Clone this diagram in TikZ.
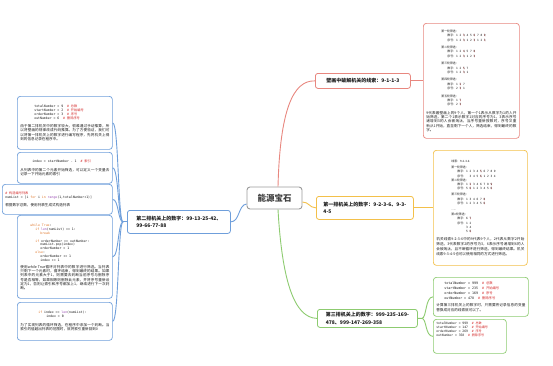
\documentclass[tikz,border=0pt]{standalone}
\usepackage{fontspec}
\usetikzlibrary{calc}
\setmainfont{Noto Sans CJK SC}
\setmonofont{DejaVu Sans Mono}
\XeTeXlinebreaklocale "zh"
\XeTeXlinebreakskip=0pt plus 0.6pt
\parindent=0pt
\definecolor{cred}{HTML}{E8877F}
\definecolor{cyel}{HTML}{F3C04A}
\definecolor{cgrn}{HTML}{8DCB70}
\definecolor{cblu}{HTML}{6F9FDB}
\definecolor{cgry}{HTML}{9B9B9B}
\definecolor{cmt}{HTML}{D42A2A}
\definecolor{kwc}{HTML}{E0782C}
\definecolor{fnc}{HTML}{9B4DB5}
\definecolor{txt}{HTML}{1C1C1C}
\newcommand\pf{\fontsize{3.6}{4.15}\selectfont\rmfamily}
\newcommand\cf{\fontsize{3.2}{3.9}\selectfont\ttfamily}
\newcommand\rf{\fontsize{2.9}{4.2}\selectfont\rmfamily}
\newcommand\cm[1]{{\color{cmt}\#\ \rmfamily #1}}
\newcommand\kw[1]{{\color{kwc}#1}}
\newcommand\fn[1]{{\color{fnc}#1}}
\newcommand\kx[1]{\rlap{#1}{\color{cmt}\textbackslash}}
\newcommand\rh[1]{\hspace*{15pt}#1\par}
\newcommand\rl[2]{\hspace*{21pt}#1：{\ttfamily #2}\par}
\begin{document}
\begin{tikzpicture}[x=1pt,y=-1pt,
  box/.style={draw, rounded corners=3pt, line width=0.7pt, fill=white, anchor=north west,
    inner xsep=3pt, inner ysep=2pt, align=justify, text=txt},
  branch/.style={draw, rounded corners=2.5pt, line width=0.8pt, fill=white, anchor=north west,
    inner xsep=4pt, inner ysep=2pt, font=\fontsize{5}{7.5}\selectfont\bfseries, align=left, text=txt},
  link/.style={line width=0.9pt}]
\useasboundingbox (0,0) rectangle (553,365);

% root
\node[draw=cgry, line width=0.9pt, rounded corners=3pt, fill=white, minimum width=55pt, minimum height=22pt,
  font=\fontsize{8.5}{10}\selectfont\bfseries, text=txt!85, inner sep=0pt] (root) at (274.5,198) {能源宝石};

% branches
\node[branch, draw=cred, minimum width=95pt, minimum height=15pt] (rb) at (315,73)
  {壁画中破解机关的线索：9-1-1-3};
\node[branch, draw=cyel, minimum width=97pt, minimum height=23pt] (yb) at (316,196)
  {第一排机关上的数字：9-2-3-6、9-3-\\4-5};
\node[branch, draw=cgrn, minimum width=100pt, minimum height=18pt, inner ysep=1pt] (gb) at (317,309)
  {第三排机关上的数字：999-235-169-\\478、999-147-269-358};
\node[branch, draw=cblu, minimum width=103pt, minimum height=23pt] (bb) at (127,210)
  {第二排机关上的数字：99-13-25-42、\\99-66-77-88};

% red detail
\node[box, draw=cred, text width=90pt, minimum height=115pt] (rd) at (423,23) {\rf
\rh{第一轮筛选：}
\rl{数字}{1 2 \kx{3} 4 5 \kx{6} 7 8 \kx{9}}
\rl{序号}{1 2 \kx{3} 1 2 \kx{3} 1 2 \kx{3}}
\vspace{3.5pt}
\rh{第二轮筛选：}
\rl{数字}{1 2 \kx{4} 5 7 \kx{8}}
\rl{序号}{1 2 \kx{3} 1 2 \kx{3}}
\vspace{3.5pt}
\rh{第三轮筛选：}
\rl{数字}{1 2 \kx{5} 7}
\rl{序号}{1 2 \kx{3} 1}
\vspace{3.5pt}
\rh{第四轮筛选：}
\rl{数字}{1 \kx{2} 7}
\rl{序号}{2 \kx{3} 1}
\vspace{3.5pt}
\rh{第五轮筛选：}
\rl{数字}{1 \kx{7}}
\rl{序号}{2 \kx{3}}
\vspace{5pt}
\pf 9代表着壁画上的9个人，第一个1表示从数字为1的人开始筛选，第二个1表示数字1对应的序号为1，3表示序号递增到3的人会被淘汰，当序号重新报数时，序号又重新从1开始，直至剩下一个人，筛选结束，得到最终的数字。\par};

% yellow detail
\node[box, draw=cyel, text width=88pt, minimum height=115pt] (yd) at (433,150) {\rf
\rh{线索：9-2-3-6}
\vspace{2pt}
\rh{第一轮筛选：}
\rl{数字}{1 2 3 4 \kx{5} 6 7 8 9}
\rl{序号}{\ \ 3 4 5 \kx{6} 1 2 3 4}
\rh{第二轮筛选：}
\rl{数字}{1 \kx{2} 3 4 6 7 8 \kx{9}}
\rl{序号}{5 \kx{6} 1 2 3 4 5 \kx{6}}
\vspace{2pt}
\rh{第三轮筛选：}
\rl{数字}{1 3 4 6 7 \kx{8}}
\rl{序号}{1 2 3 4 5 \kx{6}}
\vspace{2pt}
\rh{......}
\vspace{1pt}
\rh{第n轮筛选：}
\rl{数字}{6 \kx{7}}
\rl{序号}{1 2}
\hspace*{21pt}\phantom{序号：}{\ttfamily 3 4}\par
\hspace*{21pt}\phantom{序号：}{\ttfamily 5 \kx{6}}\par
\vspace{3pt}
\fontsize{3.6}{5}\selectfont 机关线索9-2-3-6中的9代表9个人，2代表从数字2开始筛选，3代表数字2的序号为3，6表示序号递增到6的人会被淘汰，且不断循环进行筛选，得到最终结果。机关线索9-3-4-5也可以使用相同的方式进行筛选。\par};

% green details
\node[box, draw=cgrn, text width=89pt, minimum height=39pt] (g1) at (433,277) {%
\fontsize{3.3}{5}\selectfont\ttfamily
\hspace*{8pt}totalNumber = 999\ \ \cm{总数}\par
\hspace*{8pt}startNumber = 235\ \ \cm{开始编号}\par
\hspace*{8pt}orderNumber = 169\ \ \cm{序号}\par
\hspace*{8pt}outNumber = 478\ \ \cm{删除序号}\par
\vspace{2.5pt}
\fontsize{3.6}{5}\selectfont\rmfamily 计算第三排机关上的数字时，只需要将记录信息的变量替换成对应的线索就可以了。\par};
\node[box, draw=cgrn, text width=67pt, minimum height=34pt] (g2) at (433,319) {%
\fontsize{3.1}{4.2}\selectfont\ttfamily
totalNumber = 999\ \ \cm{总数}\par
startNumber = 147\ \ \cm{开始编号}\par
orderNumber = 269\ \ \cm{序号}\par
outNumber = 358\ \ \cm{删除序号}\par
\rule{0pt}{13pt}\par};

% blue details
\node[box, draw=cblu, text width=89pt, minimum height=53pt] (b1) at (17,96) {\cf
\hspace*{14pt}totalNumber = 9\ \ \cm{总数}\par
\hspace*{14pt}startNumber = 2\ \ \cm{开始编号}\par
\hspace*{14pt}orderNumber = 3\ \ \cm{序号}\par
\hspace*{14pt}outNumber = 6\ \ \cm{删除序号}\par
\vspace{4pt}
\pf 由于第二排机关中的数字较大，很难通过手动推算，所以将壁画的规律改成代码推算。为了方便验证，我们可以将第一排机关上的数字进行编写程序，先将机关上得到的信息记录在程序中。\par};
\node[box, draw=cblu, text width=89pt, minimum height=31pt] (b2) at (17,152) {\cf
\hspace*{12pt}index = startNumber - 1\ \ \cm{索引}\par
\vspace{5pt}
\pf 从列表中的第二个元素开始筛选，可以定义一个变量去记录一下开始元素的索引\par};
\node[box, draw=cblu, text width=104pt, minimum height=30pt] (b3) at (2,184) {\cf
\cm{构造编号列表}\par
numList = [i \kw{for} i \kw{in} \fn{range}(1,totalNumber+1)]\par
\vspace{4pt}
\pf 根据数字总数，使用列表生成式构造列表\par};
\node[box, draw=cblu, text width=89pt, minimum height=83pt] (b4) at (17,215) {\cf
\hspace*{10pt}\kw{while} \kw{True}:\par
\hspace*{15pt}\kw{if} \fn{len}(numList) == 1:\par
\hspace*{20pt}\kw{break}\par
\mbox{}\par
\hspace*{15pt}\kw{if} orderNumber == outNumber:\par
\hspace*{20pt}numList.pop(index)\par
\hspace*{20pt}orderNumber = 1\par
\hspace*{15pt}\kw{else}:\par
\hspace*{20pt}orderNumber += 1\par
\hspace*{20pt}index += 1\par
\vspace{3pt}
\pf 使用while True循环对列表中的数字进行筛选。当列表只剩下一个元素时，循环结束，得到最终的结果。如果列表中的元素大于1，则需要去判断当前序号与删除序号是否相等，如果相等则删除此元素，并将序号重新设定为1，否则让索引和序号都加上1，继续进行下一次判断。\par};
\node[box, draw=cblu, text width=89pt, minimum height=38pt] (b5) at (17,302) {\cf
\hspace*{18pt}\kw{if} index == \fn{len}(numList):\par
\hspace*{26pt}index = 0\par
\vspace{5pt}
\pf 为了实现列表的循环筛选，在程序中添加一个判断。当索引的值超出列表的范围时，就将索引重新回到0\par};

% connectors from root
\coordinate (rs) at ($(root.north)+(3.5,0)$);
\draw[link, cred] (rs) .. controls (280,110) and (293,80) .. (rb.west);
\coordinate (ys) at ($(root.east)+(0,4)$);
\draw[link, cyel] (ys) .. controls (309,202) and (309,207.5) .. (yb.west);
\coordinate (gs) at ($(root.south)+(3.5,0)$);
\draw[link, cgrn] (gs) .. controls (282,280) and (294,318) .. (gb.west);
\coordinate (bs) at ($(root.west)+(0,6)$);
\draw[link, cblu] (bs) .. controls (238,205) and (240,221.5) .. (bb.east);

% red, yellow
\draw[link, cred] (rb.east) -- (rd.west |- rb.east);
\draw[link, cyel] (yb.east) -- (yd.west |- yb.east);

% green bracket
\coordinate (gsplit) at ($(gb.east)+(4,0)$);
\draw[link, cgrn] (gb.east) -- (gsplit) .. controls +(5,0) and +(-8,0) .. (g1.west);
\draw[link, cgrn] (gsplit) .. controls +(5,0) and +(-8,0) .. (g2.west);

% blue fan
\coordinate (bsplit) at ($(bb.west)+(-4,0)$);
\draw[link, cblu] (bb.west) -- (bsplit);
\foreach \b in {b1,b2,b3,b4,b5}
  \draw[link, cblu] (bsplit) .. controls +(-5,0) and +(6,0) .. (\b.east);
\end{tikzpicture}
\end{document}
